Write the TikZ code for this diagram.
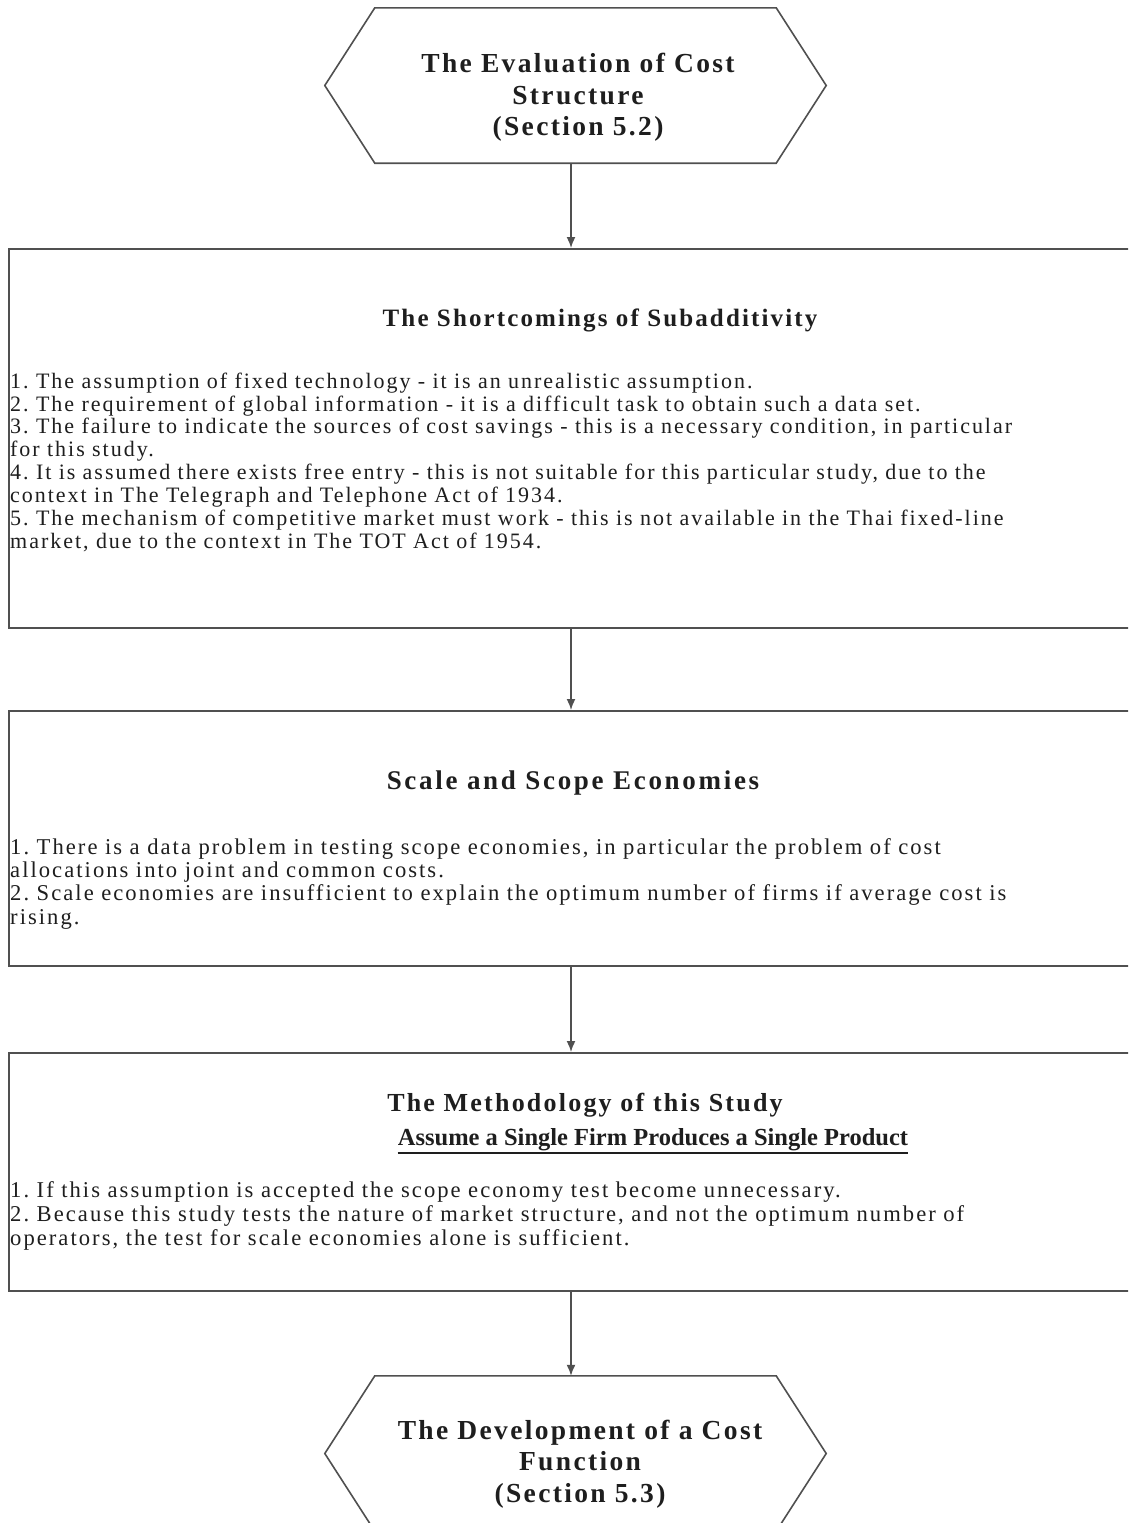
\documentclass[tikz,border=0pt]{standalone}
\usepackage{fontspec}
\setmainfont{Liberation Serif}
\newfontfamily\trackedserif[LetterSpace=9]{Liberation Serif}
\newfontfamily\headserif[LetterSpace=8.5]{Liberation Serif}
\newfontfamily\wideserif[LetterSpace=10]{Liberation Serif}
\usetikzlibrary{arrows.meta,calc}
\definecolor{ink}{HTML}{1E1E1E}
\definecolor{rule}{HTML}{505050}
\frenchspacing
\begin{document}
\begin{tikzpicture}[x=1pt,y=-1pt,
  frame/.style={draw=rule,line width=1.6pt},
  flow/.style={draw=rule,line width=1.6pt,-{Latex[length=11pt,width=9pt]}},
  hexlabel/.style={font=\headserif\fontsize{27.5}{31.5}\selectfont\bfseries,text=ink,align=center,inner sep=0pt},
  heading/.style={font=\headserif\fontsize{26}{30}\selectfont\bfseries,text=ink,inner sep=0pt,anchor=base},
  subheading/.style={font=\fontsize{24.5}{30}\selectfont\bfseries,text=ink,inner sep=0pt,anchor=base},
  bodytext/.style={font=\trackedserif\fontsize{22}{22.9}\selectfont,text=ink,align=left,inner sep=0pt,anchor=north west,text width=1110pt},
  boxnode/.style={frame,minimum width=1140pt,inner sep=0pt,anchor=north west},
  hexnode/.style={minimum width=501pt,minimum height=155pt,inner sep=0pt},
]
\useasboundingbox (0,0) rectangle (1128,1523);
\clip (0,0) rectangle (1128,1523);
\fill[white] (0,0) rectangle (1128,1523);
\coordinate (spine) at (571,0);

% opening hexagon
\node[hexnode] (start) at (575.5,85.5) {};
\draw[frame] (start.west) -- ($(start.north west)+(50,0)$) -- ($(start.north east)+(-50,0)$)
  -- (start.east) -- ($(start.south east)+(-50,0)$) -- ($(start.south west)+(50,0)$) -- cycle;
\node[hexlabel] (startlbl) at (578,97.5) {The Evaluation of Cost\\Structure\\(Section 5.2)};

% box 1
\node[boxnode,minimum height=379pt] (box1) at (8,248) {};
\node[heading,font=\headserif\fontsize{25}{30}\selectfont\bfseries] (h1) at (600,326) {The Shortcomings of Subadditivity};
\node[bodytext] (b1) at (10,372.5) {1. The assumption of fixed technology - it is an unrealistic assumption.\\
2. The requirement of global information - it is a difficult task to obtain such a data set.\\
3. The failure to indicate the sources of cost savings - this is a necessary condition, in particular\\
for this study.\\
4. It is assumed there exists free entry - this is not suitable for this particular study, due to the\\
context in The Telegraph and Telephone Act of 1934.\\
5. The mechanism of competitive market must work - this is not available in the Thai fixed-line\\
market, due to the context in The TOT Act of 1954.};

% box 2
\node[boxnode,minimum height=255pt] (box2) at (8,710) {};
\node[heading,font=\wideserif\fontsize{27}{30}\selectfont\bfseries] (h2) at (573,789) {Scale and Scope Economies};
\node[bodytext,font=\trackedserif\fontsize{22.6}{23.4}\selectfont] (b2) at (10,838) {1. There is a data problem in testing scope economies, in particular the problem of cost\\
allocations into joint and common costs.\\
2. Scale economies are insufficient to explain the optimum number of firms if average cost is\\
rising.};

% box 3
\node[boxnode,minimum height=238pt] (box3) at (8,1052) {};
\node[heading] (h3) at (585,1111) {The Methodology of this Study};
\node[subheading] (h3b) at (653,1145) {Assume a Single Firm Produces a Single Product};
\draw[draw=ink,line width=1.8pt] ($(h3b.base west)+(0,8)$) -- ($(h3b.base east)+(0,8)$);
\node[bodytext,font=\trackedserif\fontsize{22.6}{24}\selectfont] (b3) at (10,1181) {1. If this assumption is accepted the scope economy test become unnecessary.\\
2. Because this study tests the nature of market structure, and not the optimum number of\\
operators, the test for scale economies alone is sufficient.};

% closing hexagon
\node[hexnode] (finish) at (575.5,1453.5) {};
\draw[frame] (finish.west) -- ($(finish.north west)+(50,0)$) -- ($(finish.north east)+(-50,0)$)
  -- (finish.east) -- ($(finish.south east)+(-50,0)$) -- ($(finish.south west)+(50,0)$) -- cycle;
\node[hexlabel] (finishlbl) at (580,1464) {The Development of a Cost\\Function\\(Section 5.3)};

% connectors
\draw[flow] (start.south -| spine) -- (box1.north -| spine);
\draw[flow] (box1.south -| spine) -- (box2.north -| spine);
\draw[flow] (box2.south -| spine) -- (box3.north -| spine);
\draw[flow] (box3.south -| spine) -- (finish.north -| spine);
\end{tikzpicture}
\end{document}
